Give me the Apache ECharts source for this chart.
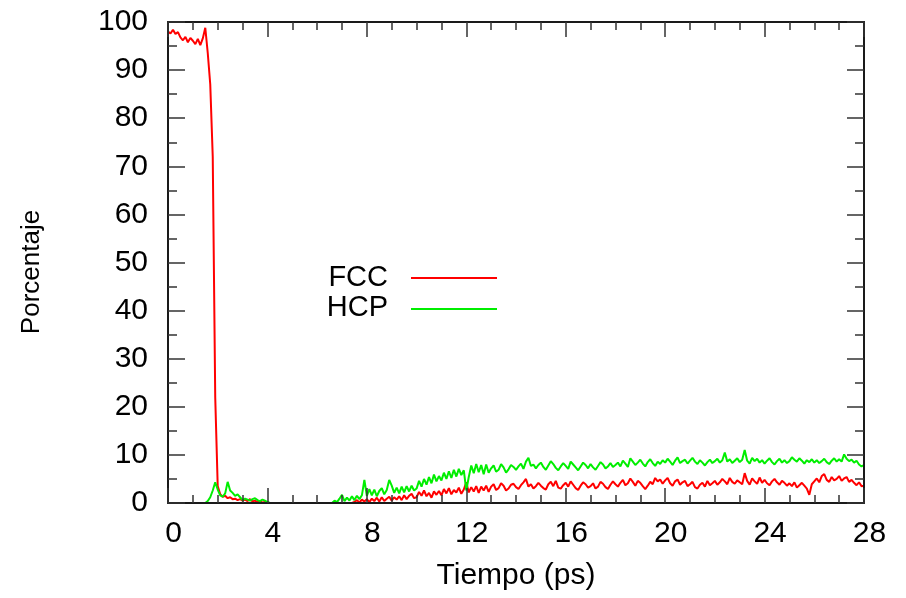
<!DOCTYPE html>
<html>
<head>
<meta charset="utf-8">
<script src="https://cdn.jsdelivr.net/npm/echarts@6/dist/echarts.min.js"></script>
<style>
  html, body { margin: 0; padding: 0; background: #fff; }
  #chart { width: 906px; height: 598px; }
</style>
</head>
<body>
<div id="chart"></div>
<script>
// Sampling interval of the simulation output (ps)
const timeStep = 0.1;

// Fraction of atoms in FCC environment (%), one row per picosecond
const fccPercent = [
  98.0, 97.6, 98.4, 97.5, 97.9, 96.8, 96.2, 96.9, 95.8, 96.7,
  96.1, 95.4, 96.5, 95.2, 96.6, 98.8, 93.5, 87.0, 72.0, 22.0,
  3.5, 1.8, 1.3, 1.5, 1.0, 1.2, 0.8, 0.9, 0.6, 0.8,
  0.5, 0.7, 0.4, 0.8, 0.3, 0.5, 0.2, 0.4, 0.1, 0.2,
  0, 0, 0, 0, 0, 0, 0, 0, 0, 0,
  0, 0, 0, 0, 0, 0, 0, 0, 0, 0,
  0, 0, 0, 0, 0, 0, 0, 0, 0, 0,
  0, 0, 0, 0, 0, 0.2, 0.6, 0.1, 0.7, 0.3,
  0.8, 0.2, 0.9, 0.4, 1.1, 0.3, 1.2, 0.4, 0.9, 1.3,
  0.5, 1.2, 0.7, 1.4, 0.6, 1.6, 0.8, 1.5, 1.9, 1.0,
  1.2, 2.3, 1.5, 2.6, 1.4, 2.1, 1.1, 2.4, 1.7, 2.5,
  1.6, 2.9, 2.0, 3.1, 1.8, 2.7, 2.2, 3.2, 1.9, 2.8,
  4.3, 2.2, 3.3, 2.4, 3.5, 2.1, 3.4, 2.6, 3.6, 2.3,
  3.4, 3.9, 2.7, 3.1, 4.1, 3.6, 2.6, 3.0, 3.8, 4.0,
  3.3, 2.9, 3.7, 4.3, 5.0, 3.4, 3.9, 3.0, 3.5, 4.2,
  3.6, 3.1, 2.8, 3.9, 4.4, 3.5, 4.6, 3.2, 3.0, 3.7,
  4.2, 3.4, 4.5, 3.8, 3.1, 2.7, 3.6, 4.3, 3.9, 3.2,
  3.5, 4.1, 3.0, 3.4, 4.4, 4.0, 3.3, 2.9, 3.8, 4.5,
  3.9, 3.4, 4.2, 4.8, 3.7, 4.1, 5.1, 4.4, 3.6, 4.6,
  4.2, 3.5, 2.9, 3.6, 4.4, 3.9, 5.2, 4.5, 4.9, 4.0,
  4.7, 5.2, 4.1, 3.6, 4.5, 4.9, 3.8, 4.3, 4.6, 3.5,
  3.9, 4.4, 3.3, 3.0, 3.8, 4.2, 3.4, 4.6, 3.7, 4.1,
  4.6, 3.8, 4.3, 5.0, 4.5, 3.9, 5.2, 4.4, 4.0, 4.7,
  4.3, 3.9, 6.2, 4.6, 3.8, 5.1, 4.5, 4.0, 5.3, 4.2,
  4.8, 4.1, 3.7, 4.5, 5.0, 4.3, 3.8, 4.6, 4.2, 3.6,
  4.1, 3.5, 4.3, 3.2, 3.7, 4.2, 3.6, 3.0, 1.7, 3.9,
  4.5, 5.1, 4.3, 5.6, 6.0, 4.8, 4.4, 5.4, 4.7, 5.0,
  5.6, 4.6, 5.1, 5.4, 4.4, 4.8, 4.2, 3.7, 4.3, 3.5,
  3.6
];

// Fraction of atoms in HCP environment (%), one row per picosecond
const hcpPercent = [
  0, 0, 0, 0, 0, 0, 0, 0, 0, 0,
  0, 0, 0, 0, 0, 0, 0.4, 1.2, 2.6, 4.3,
  2.8, 1.6, 1.3, 2.0, 4.4, 2.6, 2.1, 1.5, 1.8, 1.2,
  0.6, 0.9, 0.7, 0.5, 0.8, 1.0, 0.6, 0.4, 0.7, 0.5,
  0.2, 0, 0, 0, 0, 0, 0, 0, 0, 0,
  0, 0, 0, 0, 0, 0, 0, 0, 0, 0,
  0, 0, 0, 0, 0, 0, 0, 0.5, 0.2, 0.9,
  1.7, 0.4, 1.1, 0.5, 1.4, 0.6, 1.5, 0.8, 1.6, 4.8,
  1.5, 2.9, 1.6, 2.8, 1.4, 2.5, 3.1, 1.8, 2.7, 4.8,
  3.6, 2.1, 3.2, 2.0, 3.4, 2.2, 3.5, 2.4, 3.6, 2.6,
  3.0, 4.6, 3.4, 5.0, 3.8, 5.4, 4.1, 5.9, 4.5, 5.6,
  4.7, 6.3, 5.0, 6.6, 5.2, 6.9, 5.5, 7.1, 5.8, 6.8,
  2.6, 5.4, 7.8, 6.2, 8.1, 6.4, 7.9, 6.0, 8.0, 6.3,
  7.2, 7.8, 6.5, 6.9, 8.1, 7.4, 6.3, 7.0, 7.9, 7.5,
  6.9, 7.6, 8.2, 7.1, 8.6, 9.4, 7.7, 8.0, 7.2, 7.9,
  8.4, 7.5, 6.9, 7.8, 8.7, 8.1, 7.3, 6.8, 7.6, 8.3,
  7.7, 7.1, 8.6, 8.0, 7.4, 6.8, 7.6, 8.4, 7.9, 7.2,
  8.1, 7.4, 6.9, 7.7, 8.5, 8.0, 7.2, 7.6, 8.3, 7.5,
  7.9, 8.4, 7.6, 8.8, 8.2, 7.5, 9.3, 8.6, 7.9, 8.4,
  9.0, 8.2, 7.6, 8.5, 9.1, 8.3, 7.7, 8.6, 8.1, 8.9,
  8.4, 9.2, 8.6, 7.9, 8.8, 9.5, 8.3, 8.7, 9.0, 8.2,
  8.8, 9.4, 8.6, 8.1, 8.9, 8.4, 7.8, 8.5, 9.0, 8.3,
  8.7, 9.2, 8.4, 8.9, 10.5, 8.6, 9.1, 8.3, 8.8, 9.3,
  8.5, 9.0, 11.0, 8.8, 8.2, 9.4, 8.7, 9.2, 8.4, 8.9,
  8.2, 8.8, 9.3, 8.5, 8.0, 8.7, 9.2, 8.4, 8.9, 8.3,
  8.7, 9.5, 9.0, 8.6, 9.3, 8.8, 8.2, 8.9, 8.5, 9.1,
  8.4, 8.9, 8.3, 8.7, 9.2, 8.5, 8.1, 8.8, 9.3, 8.6,
  9.1, 8.6, 10.1, 9.2, 8.7, 9.0, 8.4, 8.8, 8.0, 7.6,
  7.9
];

const seriesNames = ['FCC', 'HCP'];
const seriesColors = ['#ff0000', '#00ee00'];
const xRange = { min: 0, max: 28, interval: 4 };
const yRange = { min: 0, max: 100, interval: 10 };
const xTitle = 'Tiempo (ps)';
const yTitle = 'Porcentaje';

const FONT = "'Liberation Sans', Arial, Helvetica, sans-serif";
const AXIS_COLOR = '#1a1a1a';
const TICK_STYLE = { color: '#333', width: 1.5 };

function toPairs(values) {
  return values.map((v, i) => [Math.round(i * timeStep * 10) / 10, v]);
}

// Frame axis: bottom/left carry labels, top/right only mirror the ticks
function frameAxis(range, opts, majorLen, minorLen, minorSplit) {
  return Object.assign({
    type: 'value',
    z: 5,
    splitLine: { show: false },
    axisLine: { show: true, onZero: false, lineStyle: { color: AXIS_COLOR, width: 2 } },
    axisTick: { show: true, inside: true, length: majorLen, lineStyle: TICK_STYLE },
    minorTick: { show: true, splitNumber: minorSplit, length: minorLen, lineStyle: TICK_STYLE }
  }, range, opts);
}

const chart = echarts.init(document.getElementById('chart'), null, { renderer: 'canvas' });

chart.setOption({
  animation: false,
  backgroundColor: '#ffffff',
  textStyle: { fontFamily: FONT },
  grid: { left: 168, right: 42, top: 22, bottom: 95, containLabel: false },
  xAxis: [
    frameAxis(xRange, {
      position: 'bottom',
      name: xTitle,
      nameLocation: 'middle',
      nameGap: 58,
      nameTextStyle: { fontSize: 30, color: '#000', fontFamily: FONT },
      axisLabel: { fontSize: 30, color: '#000', margin: 16, padding: [0, 0, 0, 11], fontFamily: FONT }
    }, 15, 8, 4),
    frameAxis(xRange, { position: 'top', axisLabel: { show: false } }, 15, 8, 4)
  ],
  yAxis: [
    frameAxis(yRange, {
      position: 'left',
      name: yTitle,
      nameLocation: 'middle',
      nameGap: 123,
      nameRotate: 90,
      nameTextStyle: { fontSize: 26, color: '#000', fontFamily: FONT, padding: [0, 19, 0, 0] },
      axisLabel: { fontSize: 30, color: '#000', margin: 20, fontFamily: FONT }
    }, 17, 9, 2),
    frameAxis(yRange, { position: 'right', axisLabel: { show: false } }, 17, 9, 2)
  ],
  series: seriesNames.map((name, k) => ({
    name: name,
    type: 'line',
    data: toPairs(k === 0 ? fccPercent : hcpPercent),
    showSymbol: false,
    symbol: 'none',
    lineStyle: { color: seriesColors[k], width: 2 },
    itemStyle: { color: seriesColors[k] },
    z: 2 + k
  })),
  // Key: names right-aligned with a line sample beside each
  graphic: [
    { type: 'text', x: 388, y: 278, style: { text: seriesNames[0], fontSize: 29, fontFamily: FONT, fill: '#000', align: 'right', verticalAlign: 'middle' } },
    { type: 'line', shape: { x1: 411, y1: 278, x2: 497, y2: 278 }, style: { stroke: seriesColors[0], lineWidth: 2 } },
    { type: 'text', x: 388, y: 308, style: { text: seriesNames[1], fontSize: 29, fontFamily: FONT, fill: '#000', align: 'right', verticalAlign: 'middle' } },
    { type: 'line', shape: { x1: 411, y1: 309, x2: 497, y2: 309 }, style: { stroke: seriesColors[1], lineWidth: 2 } }
  ]
});
</script>
</body>
</html>
